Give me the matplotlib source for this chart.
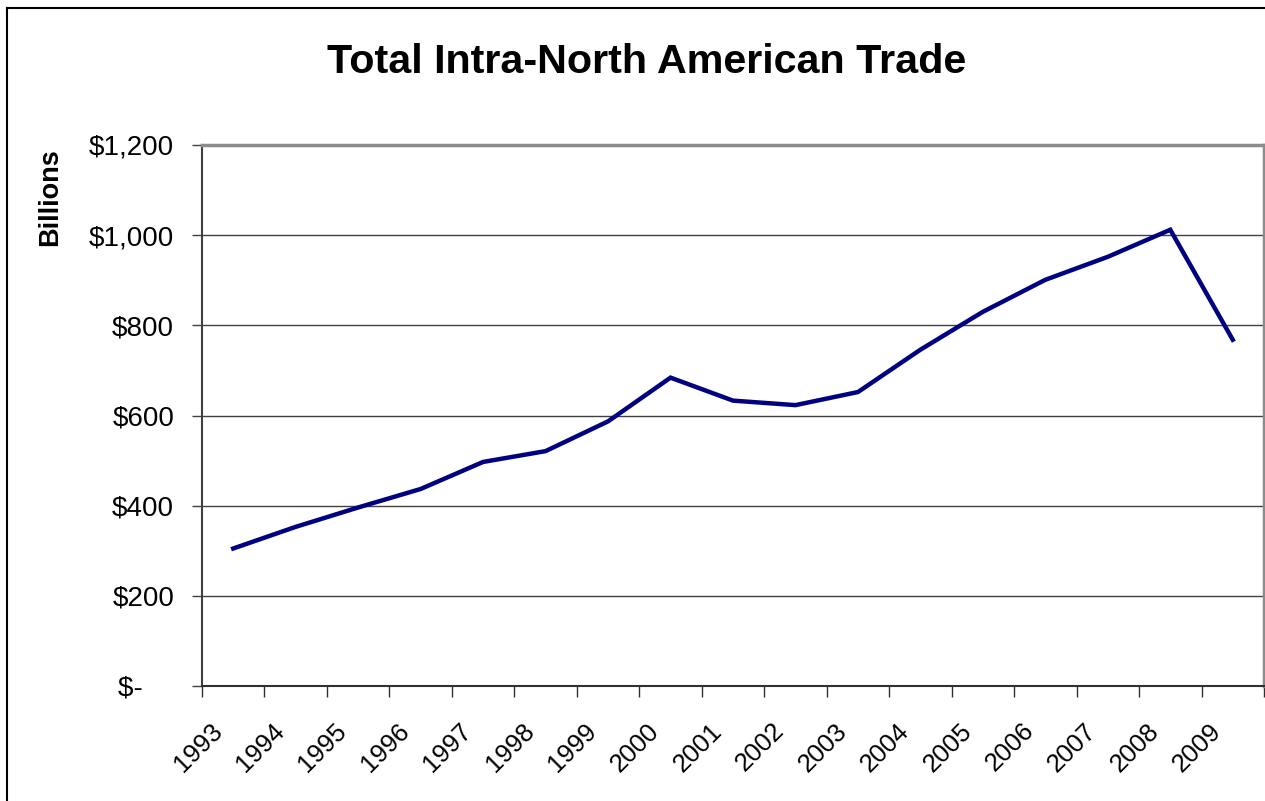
import matplotlib
matplotlib.use('Agg')
import matplotlib.pyplot as plt
from matplotlib.lines import Line2D

plt.rcParams['font.family'] = ['Liberation Sans', 'DejaVu Sans']

# data (billions of dollars)
years = ['1993', '1994', '1995', '1996', '1997', '1998', '1999', '2000', '2001',
         '2002', '2003', '2004', '2005', '2006', '2007', '2008', '2009']
trade = [305, 353, 396, 437, 497, 521, 587, 684, 633,
         623, 652, 746, 830, 901, 952, 1012, 768]
yticks = [0, 200, 400, 600, 800, 1000, 1200]
ylabels = ['$-    ', '$200', '$400', '$600', '$800', '$1,000', '$1,200']

W, H = 1265, 801
fig = plt.figure(figsize=(W / 100, H / 100), dpi=100)
ax = fig.add_axes([202 / W, 1 - 686 / H, (1264 - 202) / W, (686 - 145) / H])

x = list(range(len(years)))
ax.plot(x, trade, color='#000080', lw=3.2, solid_joinstyle='miter', zorder=3)

ax.set_xlim(-0.5, len(years) - 0.5)
ax.set_ylim(0, 1200)

ax.set_yticks(yticks)
ax.set_yticklabels(ylabels, fontsize=20)
ax.yaxis.grid(True, color='#404040', lw=1)
ax.set_axisbelow(True)
ax.tick_params(axis='y', length=7, width=1, color='#404040', pad=13)

# category labels sit left of their point, Excel style
ax.set_xticks([i - 0.5 for i in range(len(years) + 1)])
ax.set_xticklabels([])
ax.tick_params(axis='x', length=8, width=1, color='#303030')
for i, yr in enumerate(years):
    ax.annotate(yr, xy=(i, 0), xycoords=('data', 'axes fraction'),
                xytext=(-15, -41), textcoords='offset pixels',
                fontsize=18.5, rotation=45, ha='right', va='center',
                rotation_mode='anchor', annotation_clip=False)

ax.spines['left'].set_color('#404040')
ax.spines['left'].set_linewidth(1.5)
ax.spines['bottom'].set_color('#303030')
ax.spines['bottom'].set_linewidth(1.5)
ax.spines['top'].set_color('#8c8c8c')
ax.spines['top'].set_linewidth(2.5)
ax.spines['right'].set_color('#8c8c8c')
ax.spines['right'].set_linewidth(2.5)

fig.text(647 / W, 1 - 73 / H, 'Total Intra-North American Trade',
         fontsize=29.7, fontweight='bold', ha='center', va='baseline')
fig.text(50 / W, 1 - 197 / H, 'Billions', fontsize=19.5, fontweight='bold',
         rotation=90, ha='center', va='center')

# outer chart frame (top and left edges visible)
fig.add_artist(Line2D([7.5 / W, 7.5 / W], [0, 1 - 8 / H], color='black', lw=1.5,
                      transform=fig.transFigure))
fig.add_artist(Line2D([7 / W, 1], [1 - 8 / H, 1 - 8 / H], color='black', lw=1.5,
                      transform=fig.transFigure))

fig.savefig('out.png', dpi=100)
